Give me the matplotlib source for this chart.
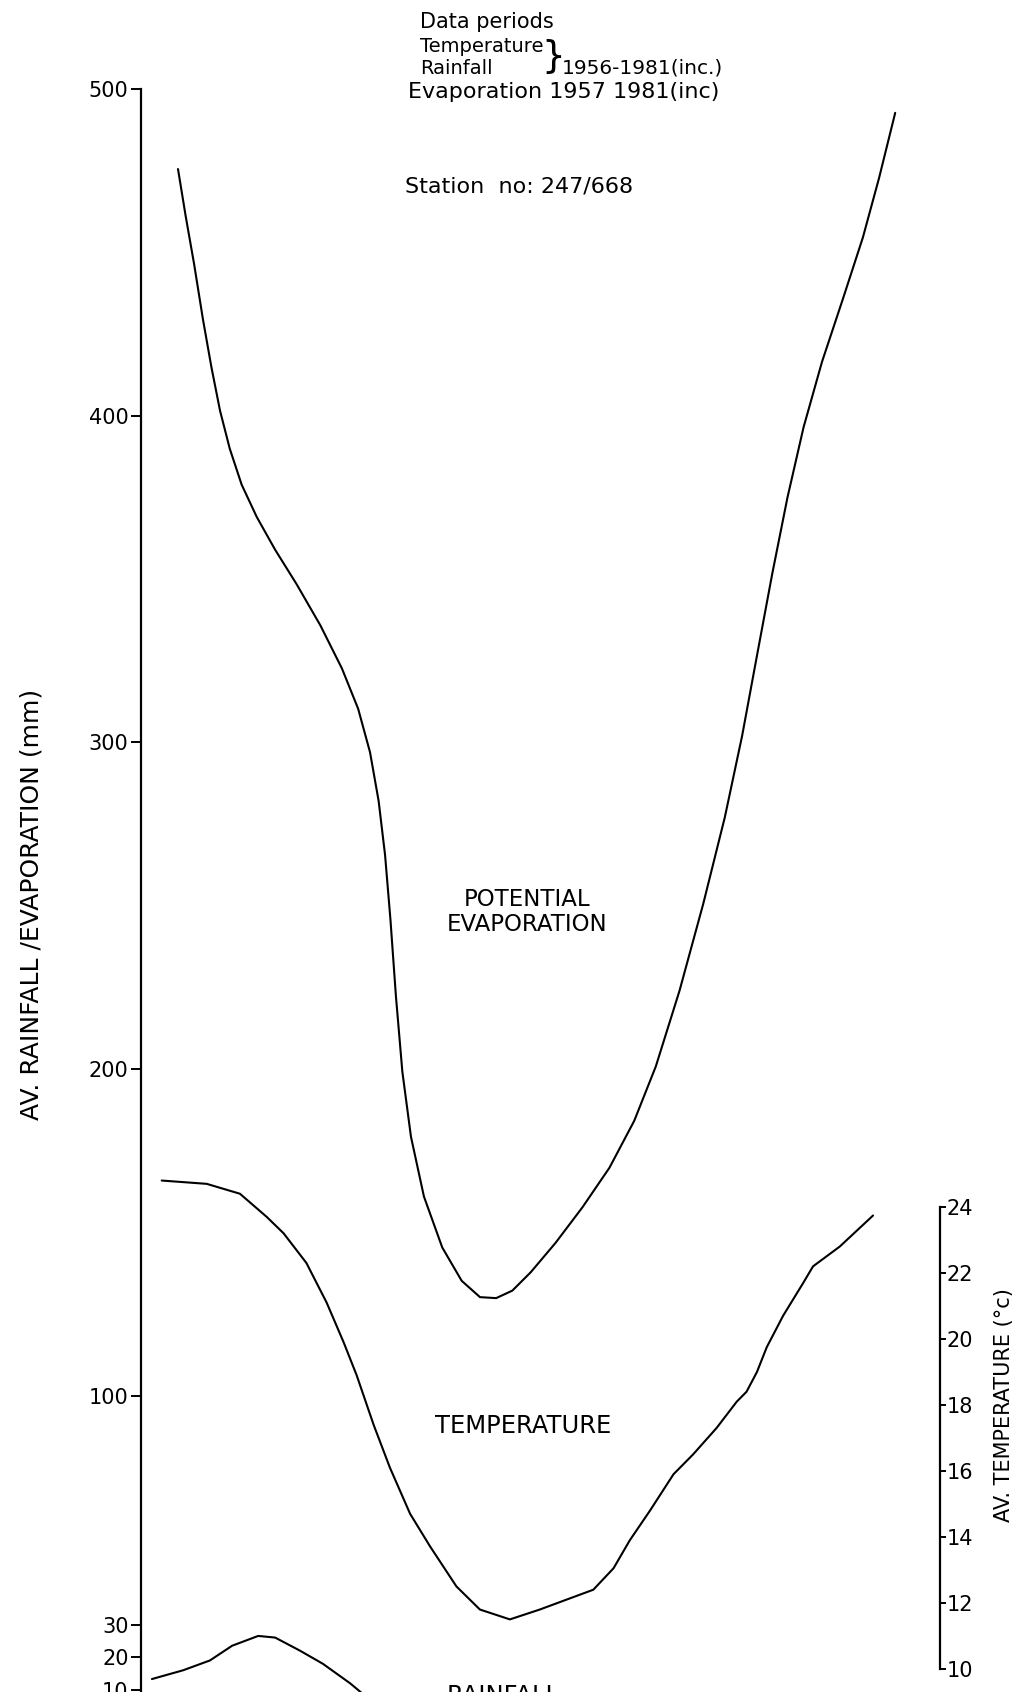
import matplotlib.pyplot as plt

OUT_PNG = "out.png"

# ---- data (x = month position, 1 = Jan ... 12 = Dec) ----
EVAP_MONTH = [1.000, 1.116, 1.248, 1.381, 1.513, 1.645, 1.794, 1.976, 2.208,
              2.489, 2.820, 3.184, 3.515, 3.763, 3.945, 4.077, 4.176, 4.259,
              4.342, 4.441, 4.573, 4.772, 5.053, 5.351, 5.632, 5.880, 6.128,
              6.409, 6.790, 7.203, 7.617, 7.998, 8.328, 8.692, 9.056, 9.387,
              9.652, 9.883, 10.115, 10.347, 10.595, 10.876, 11.207, 11.505,
              11.753, 12.000]
EVAP_MM = [475.5, 461.3, 446.3, 429.7, 414.8, 401.5, 389.9, 378.9, 369.0,
           359.0, 348.4, 335.8, 322.6, 310.3, 297.0, 282.1, 265.5, 245.6,
           222.4, 199.2, 179.3, 161.0, 145.4, 135.2, 130.2, 129.9, 132.2,
           137.8, 146.8, 157.7, 169.8, 184.2, 200.8, 224.0, 250.6, 277.1,
           302.0, 326.9, 351.7, 374.9, 396.5, 416.4, 436.3, 454.6, 472.8, 492.7]

TEMP_MONTH = [0.75, 1.44, 1.95, 2.36, 2.62, 2.97, 3.28, 3.54, 3.74, 4.00, 4.25,
              4.56, 4.87, 5.27, 5.63, 6.09, 6.55, 6.96, 7.37, 7.68, 7.93, 8.24,
              8.60, 8.90, 9.26, 9.57, 9.72, 9.88, 10.03, 10.28, 10.59, 10.74,
              11.15, 11.66]
TEMP_C = [24.8, 24.7, 24.4, 23.7, 23.2, 22.3, 21.1, 19.9, 18.9, 17.4, 16.1,
          14.7, 13.7, 12.5, 11.8, 11.5, 11.8, 12.1, 12.4, 13.05, 13.9, 14.8,
          15.9, 16.5, 17.3, 18.1, 18.4, 19.0, 19.75, 20.7, 21.7, 22.2, 22.8, 23.74]

RAIN_MONTH = [0.60, 1.08, 1.49, 1.83, 2.23, 2.49, 2.87, 3.22, 3.64, 3.82]
RAIN_MM = [13.3, 16.0, 19.0, 23.5, 26.5, 26.0, 22.0, 18.0, 12.0, 9.0]

LEFT_TICKS = [500, 400, 300, 200, 100, 30, 20, 10]
RIGHT_TICKS = [10, 12, 14, 16, 18, 20, 22, 24]

# ---- layout (pixels of the 1024 x 1692 canvas) ----
W, H = 1024, 1692
AX_LEFT_PX = 141
AX_TOP_PX = 89
RIGHT_SPINE_PX = 940
PX_PER_MONTH = 65.2
JAN_PX = 178


def fx(px):
    return px / W


def fy(py):
    return 1 - py / H


def month_at(px):
    return 1 + (px - JAN_PX) / PX_PER_MONTH


fig = plt.figure(figsize=(W / 100, H / 100), dpi=100)
fig.patch.set_facecolor("white")

ax = fig.add_axes([fx(AX_LEFT_PX), 0, 1 - fx(AX_LEFT_PX), (H - AX_TOP_PX) / H])
ax.set_xlim(month_at(AX_LEFT_PX), month_at(W))
ax.set_ylim(9.34, 500)

for s in ["top", "right", "bottom"]:
    ax.spines[s].set_visible(False)
ax.spines["left"].set_linewidth(1.6)
ax.set_xticks([])
ax.set_yticks(LEFT_TICKS)
ax.set_yticklabels([str(t) for t in LEFT_TICKS])
ax.tick_params(axis="y", direction="out", length=7, width=1.4,
               labelsize=15, pad=2)

ax.plot(EVAP_MONTH, EVAP_MM, color="black", lw=1.5,
        solid_joinstyle="round", solid_capstyle="round")
ax.plot(RAIN_MONTH, RAIN_MM, color="black", lw=1.5,
        solid_joinstyle="round", solid_capstyle="round")

# temperature on its own scale
ax2 = ax.twinx()
ax2.set_ylim(9.30, 57.88)
for s in ["top", "left", "bottom"]:
    ax2.spines[s].set_visible(False)
ax2.spines["right"].set_position(("axes", (RIGHT_SPINE_PX - AX_LEFT_PX) / (W - AX_LEFT_PX)))
ax2.spines["right"].set_bounds(10, 24)
ax2.spines["right"].set_linewidth(1.6)
ax2.set_yticks(RIGHT_TICKS)
ax2.set_yticklabels([str(t) for t in RIGHT_TICKS])
ax2.tick_params(axis="y", direction="out", length=4, width=1.4,
                labelsize=15, pad=1)
ax2.plot(TEMP_MONTH, TEMP_C, color="black", lw=1.5,
         solid_joinstyle="round", solid_capstyle="round")

# axis titles
fig.text(fx(32), fy(904), "AV. RAINFALL /EVAPORATION (mm)", rotation=90,
         ha="center", va="center", fontsize=18)
fig.text(fx(1004), fy(1405), "AV. TEMPERATURE (°c)", rotation=90,
         ha="center", va="center", fontsize=15)

# curve labels
fig.text(fx(527), fy(912), "POTENTIAL\nEVAPORATION", ha="center", va="center",
         fontsize=16.5, linespacing=1.15)
fig.text(fx(523), fy(1426), "TEMPERATURE", ha="center", va="center", fontsize=17.5)
fig.text(fx(503), fy(1696), "RAINFALL", ha="center", va="center", fontsize=17.5)

# header notes
fig.text(fx(420), fy(22), "Data periods", va="center", fontsize=15)
fig.text(fx(420), fy(46), "Temperature", va="center", fontsize=14)
fig.text(fx(420), fy(68), "Rainfall", va="center", fontsize=14)
fig.text(fx(553), fy(57), "}", ha="center", va="center", fontsize=27)
fig.text(fx(562), fy(68), "1956-1981(inc.)", va="center", fontsize=14.5)
fig.text(fx(408), fy(92), "Evaporation 1957 1981(inc)", va="center", fontsize=16)
fig.text(fx(405), fy(186), "Station  no: 247/668", va="center", fontsize=16)

fig.savefig(OUT_PNG, dpi=100)
